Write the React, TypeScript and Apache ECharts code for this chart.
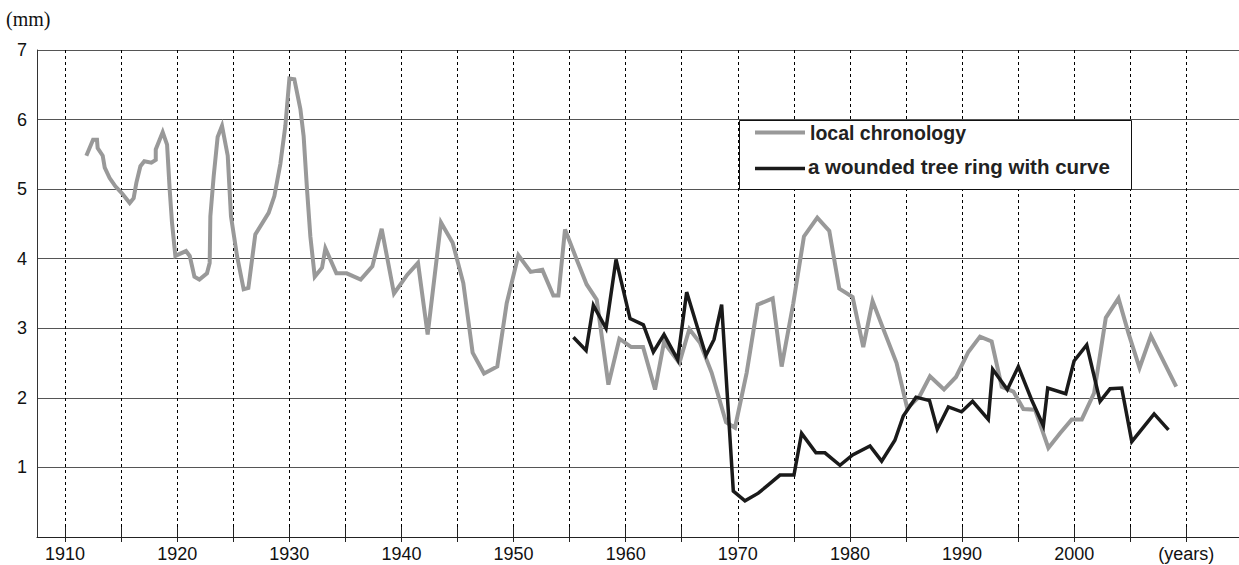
import React, { useEffect, useRef } from "react";
import * as echarts from "echarts";

// local chronology (years, mm)
const chronYears = [
  1911.9, 1912.5, 1912.85, 1912.91, 1913.36, 1913.54, 1913.98, 1914.49, 1915.08, 1915.77,
  1916.12, 1916.36, 1916.72, 1917.07, 1917.7, 1918.09, 1918.09, 1918.71, 1919.1, 1919.33,
  1919.54, 1919.84, 1920.79, 1921.12, 1921.54, 1921.98, 1922.66, 1922.9, 1922.96, 1923.26,
  1923.61, 1924.0, 1924.51, 1924.8, 1925.34, 1925.93, 1926.35, 1926.97, 1928.16, 1928.67,
  1929.2, 1929.65, 1930.01, 1930.45, 1930.99, 1931.28, 1931.58, 1931.88, 1932.27, 1932.92,
  1933.22, 1934.2, 1935.12, 1936.37, 1937.41, 1938.24, 1939.34, 1940.53, 1941.48, 1942.34,
  1943.53, 1944.57, 1945.52, 1946.35, 1947.37, 1948.55, 1949.39, 1950.43, 1951.53, 1952.57,
  1953.55, 1954.0, 1954.59, 1955.63, 1956.52, 1957.42, 1958.46, 1959.44, 1960.5, 1961.55,
  1962.62, 1963.42, 1964.79, 1965.68, 1966.63, 1967.67, 1968.95, 1969.75, 1970.79, 1971.77,
  1973.11, 1973.91, 1974.95, 1975.9, 1977.09, 1978.16, 1979.05, 1980.24, 1981.19, 1982.02,
  1983.12, 1984.16, 1985.11, 1986.2, 1987.14, 1988.39, 1989.46, 1990.56, 1991.6, 1992.64,
  1993.54, 1994.58, 1995.47, 1996.51, 1997.7, 1998.74, 1999.78, 2000.68, 2001.78, 2002.82,
  2003.95, 2004.84, 2005.83, 2006.84, 2009.1,
];
const chronValues = [
  5.48, 5.71, 5.71, 5.59, 5.48, 5.31, 5.16, 5.04, 4.94, 4.8,
  4.87, 5.09, 5.33, 5.4, 5.38, 5.42, 5.57, 5.82, 5.64, 5.0,
  4.52, 4.04, 4.11, 4.04, 3.74, 3.7, 3.79, 3.94, 4.61, 5.19,
  5.75, 5.91, 5.48, 4.61, 4.04, 3.56, 3.58, 4.35, 4.66, 4.9,
  5.36, 5.91, 6.59, 6.58, 6.15, 5.76, 5.0, 4.32, 3.74, 3.87,
  4.15, 3.79, 3.79, 3.7, 3.89, 4.43, 3.5, 3.77, 3.94, 2.91,
  4.52, 4.23, 3.65, 2.65, 2.35, 2.45, 3.36, 4.05, 3.81, 3.84,
  3.47, 3.47, 4.42, 3.99, 3.63, 3.41, 2.19, 2.85, 2.73, 2.73,
  2.12, 2.8, 2.5, 2.99, 2.79, 2.36, 1.65, 1.57, 2.36, 3.34,
  3.43, 2.45, 3.36, 4.32, 4.59, 4.4, 3.57, 3.45, 2.73, 3.39,
  2.93, 2.5, 1.85, 2.02, 2.31, 2.12, 2.3, 2.66, 2.88, 2.81,
  2.16, 2.09, 1.84, 1.83, 1.28, 1.49, 1.69, 1.69, 2.07, 3.15,
  3.43, 2.93, 2.43, 2.89, 2.16,
];

// a wounded tree ring with curve (years, mm)
const woundYears = [
  1955.34, 1956.47, 1957.12, 1958.25, 1959.14, 1960.39, 1961.58, 1962.47, 1963.42, 1964.64,
  1965.44, 1967.16, 1967.88, 1968.56, 1969.6, 1970.64, 1971.83, 1972.72, 1973.76, 1975.01,
  1975.69, 1976.97, 1977.77, 1979.11, 1980.24, 1981.79, 1982.83, 1984.01, 1984.76, 1985.89,
  1987.1, 1987.79, 1988.78, 1989.96, 1990.94, 1992.34, 1992.73, 1994.04, 1995.02, 1996.21,
  1997.25, 1997.64, 1999.25, 1999.99, 2001.12, 2002.31, 2003.2, 2004.24, 2005.14, 2007.13,
  2008.41,
];
const woundValues = [
  2.87, 2.68, 3.33, 3.0, 3.99, 3.14, 3.05, 2.66, 2.91, 2.55,
  3.52, 2.61, 2.84, 3.34, 0.66, 0.52, 0.63, 0.75, 0.89, 0.89,
  1.49, 1.21, 1.21, 1.03, 1.18, 1.31, 1.09, 1.39, 1.74, 2.01,
  1.96, 1.55, 1.87, 1.8, 1.95, 1.69, 2.41, 2.12, 2.45, 1.97,
  1.6, 2.14, 2.06, 2.53, 2.76, 1.95, 2.13, 2.14, 1.37, 1.77,
  1.54,
];

const tickYears = [1910, 1915, 1920, 1925, 1930, 1935, 1940, 1945, 1950, 1955, 1960, 1965, 1970, 1975, 1980, 1985, 1990, 1995, 2000, 2005, 2010];
const labelYears = [1910, 1920, 1930, 1940, 1950, 1960, 1970, 1980, 1990, 2000, 2010];
const seriesNames = ["local chronology", "a wounded tree ring with curve"];
const yUnit = "(mm)";
const xUnit = "(years)";

export default function App() {
  const ref = useRef<HTMLDivElement>(null);
  useEffect(() => {
    if (!ref.current) return;
    const chart = echarts.init(ref.current, undefined, { renderer: "svg" });
    const font = "'Liberation Sans', Arial, sans-serif";
    const chron = chronYears.map((y, i) => [y, chronValues[i]]);
    const wound = woundYears.map((y, i) => [y, woundValues[i]]);
    chart.setOption({
      animation: false,
      backgroundColor: "#fff",
      grid: { left: 37, right: 0, top: 50, bottom: 28, containLabel: false },
      xAxis: [
        {
          type: "value",
          min: 1907.5,
          max: 2014.7,
          axisLine: { show: true, lineStyle: { color: "#222", width: 1 } },
          axisTick: {
            show: true,
            customValues: tickYears,
            length: 5,
            inside: false,
            lineStyle: { color: "#222", width: 1 },
          },
          axisLabel: {
            customValues: labelYears,
            color: "#111",
            fontFamily: font,
            fontSize: 18,
            margin: 8,
            formatter: (v: number) => (v === 2010 ? xUnit : String(v)),
          },
          splitLine: {
            show: true,
            lineStyle: { color: "#000", width: 1, type: [3, 3] },
          },
        },
        {
          type: "value",
          position: "bottom",
          min: 1907.5,
          max: 2014.7,
          axisLine: { show: false },
          axisTick: {
            show: true,
            customValues: tickYears,
            length: 10,
            inside: true,
            lineStyle: { color: "#222", width: 1 },
          },
          axisLabel: { show: false },
          splitLine: { show: false },
        },
      ],
      yAxis: {
        type: "value",
        min: 0,
        max: 7,
        interval: 1,
        axisLine: { show: true, lineStyle: { color: "#333", width: 1 } },
        axisTick: { show: false },
        axisLabel: {
          color: "#111",
          fontFamily: font,
          fontSize: 18,
          margin: 10,
          formatter: (v: number) => (v === 0 ? "" : String(v)),
        },
        splitLine: { show: true, lineStyle: { color: "#555", width: 1 } },
      },
      graphic: [
        {
          type: "text",
          left: 6,
          top: 9,
          style: { text: yUnit, font: "20px 'Liberation Serif', 'Times New Roman', serif", fill: "#111" },
        },
        {
          type: "rect",
          shape: { x: 739.5, y: 120.5, width: 392, height: 69 },
          style: { fill: "#fff", stroke: "#111", lineWidth: 1 },
          z: 10,
        },
        {
          type: "line",
          shape: { x1: 755, y1: 132.5, x2: 805, y2: 132.5 },
          style: { stroke: "#999", lineWidth: 4 },
          z: 11,
        },
        {
          type: "line",
          shape: { x1: 755, y1: 168.5, x2: 805, y2: 168.5 },
          style: { stroke: "#1a1a1a", lineWidth: 3.5 },
          z: 11,
        },
        {
          type: "text",
          x: 810,
          y: 133,
          style: { text: seriesNames[0], font: `bold 19.5px ${font}`, fill: "#222", textVerticalAlign: "middle" },
          z: 11,
        },
        {
          type: "text",
          x: 808,
          y: 166,
          style: { text: seriesNames[1], font: `bold 20.5px ${font}`, fill: "#222", textVerticalAlign: "middle" },
          z: 11,
        },
      ],
      series: [
        {
          name: seriesNames[0],
          type: "line",
          xAxisIndex: 0,
          data: chron,
          showSymbol: false,
          symbol: "none",
          lineStyle: { color: "#999", width: 4, join: "miter" },
          z: 3,
        },
        {
          name: seriesNames[1],
          type: "line",
          xAxisIndex: 0,
          data: wound,
          showSymbol: false,
          symbol: "none",
          lineStyle: { color: "#1a1a1a", width: 3.5, join: "miter" },
          z: 4,
        },
      ],
    });
    return () => chart.dispose();
  }, []);
  return (
    <div
      ref={ref}
      style={{ position: "fixed", left: 0, top: 0, width: 1239, height: 565, background: "#fff" }}
    />
  );
}
